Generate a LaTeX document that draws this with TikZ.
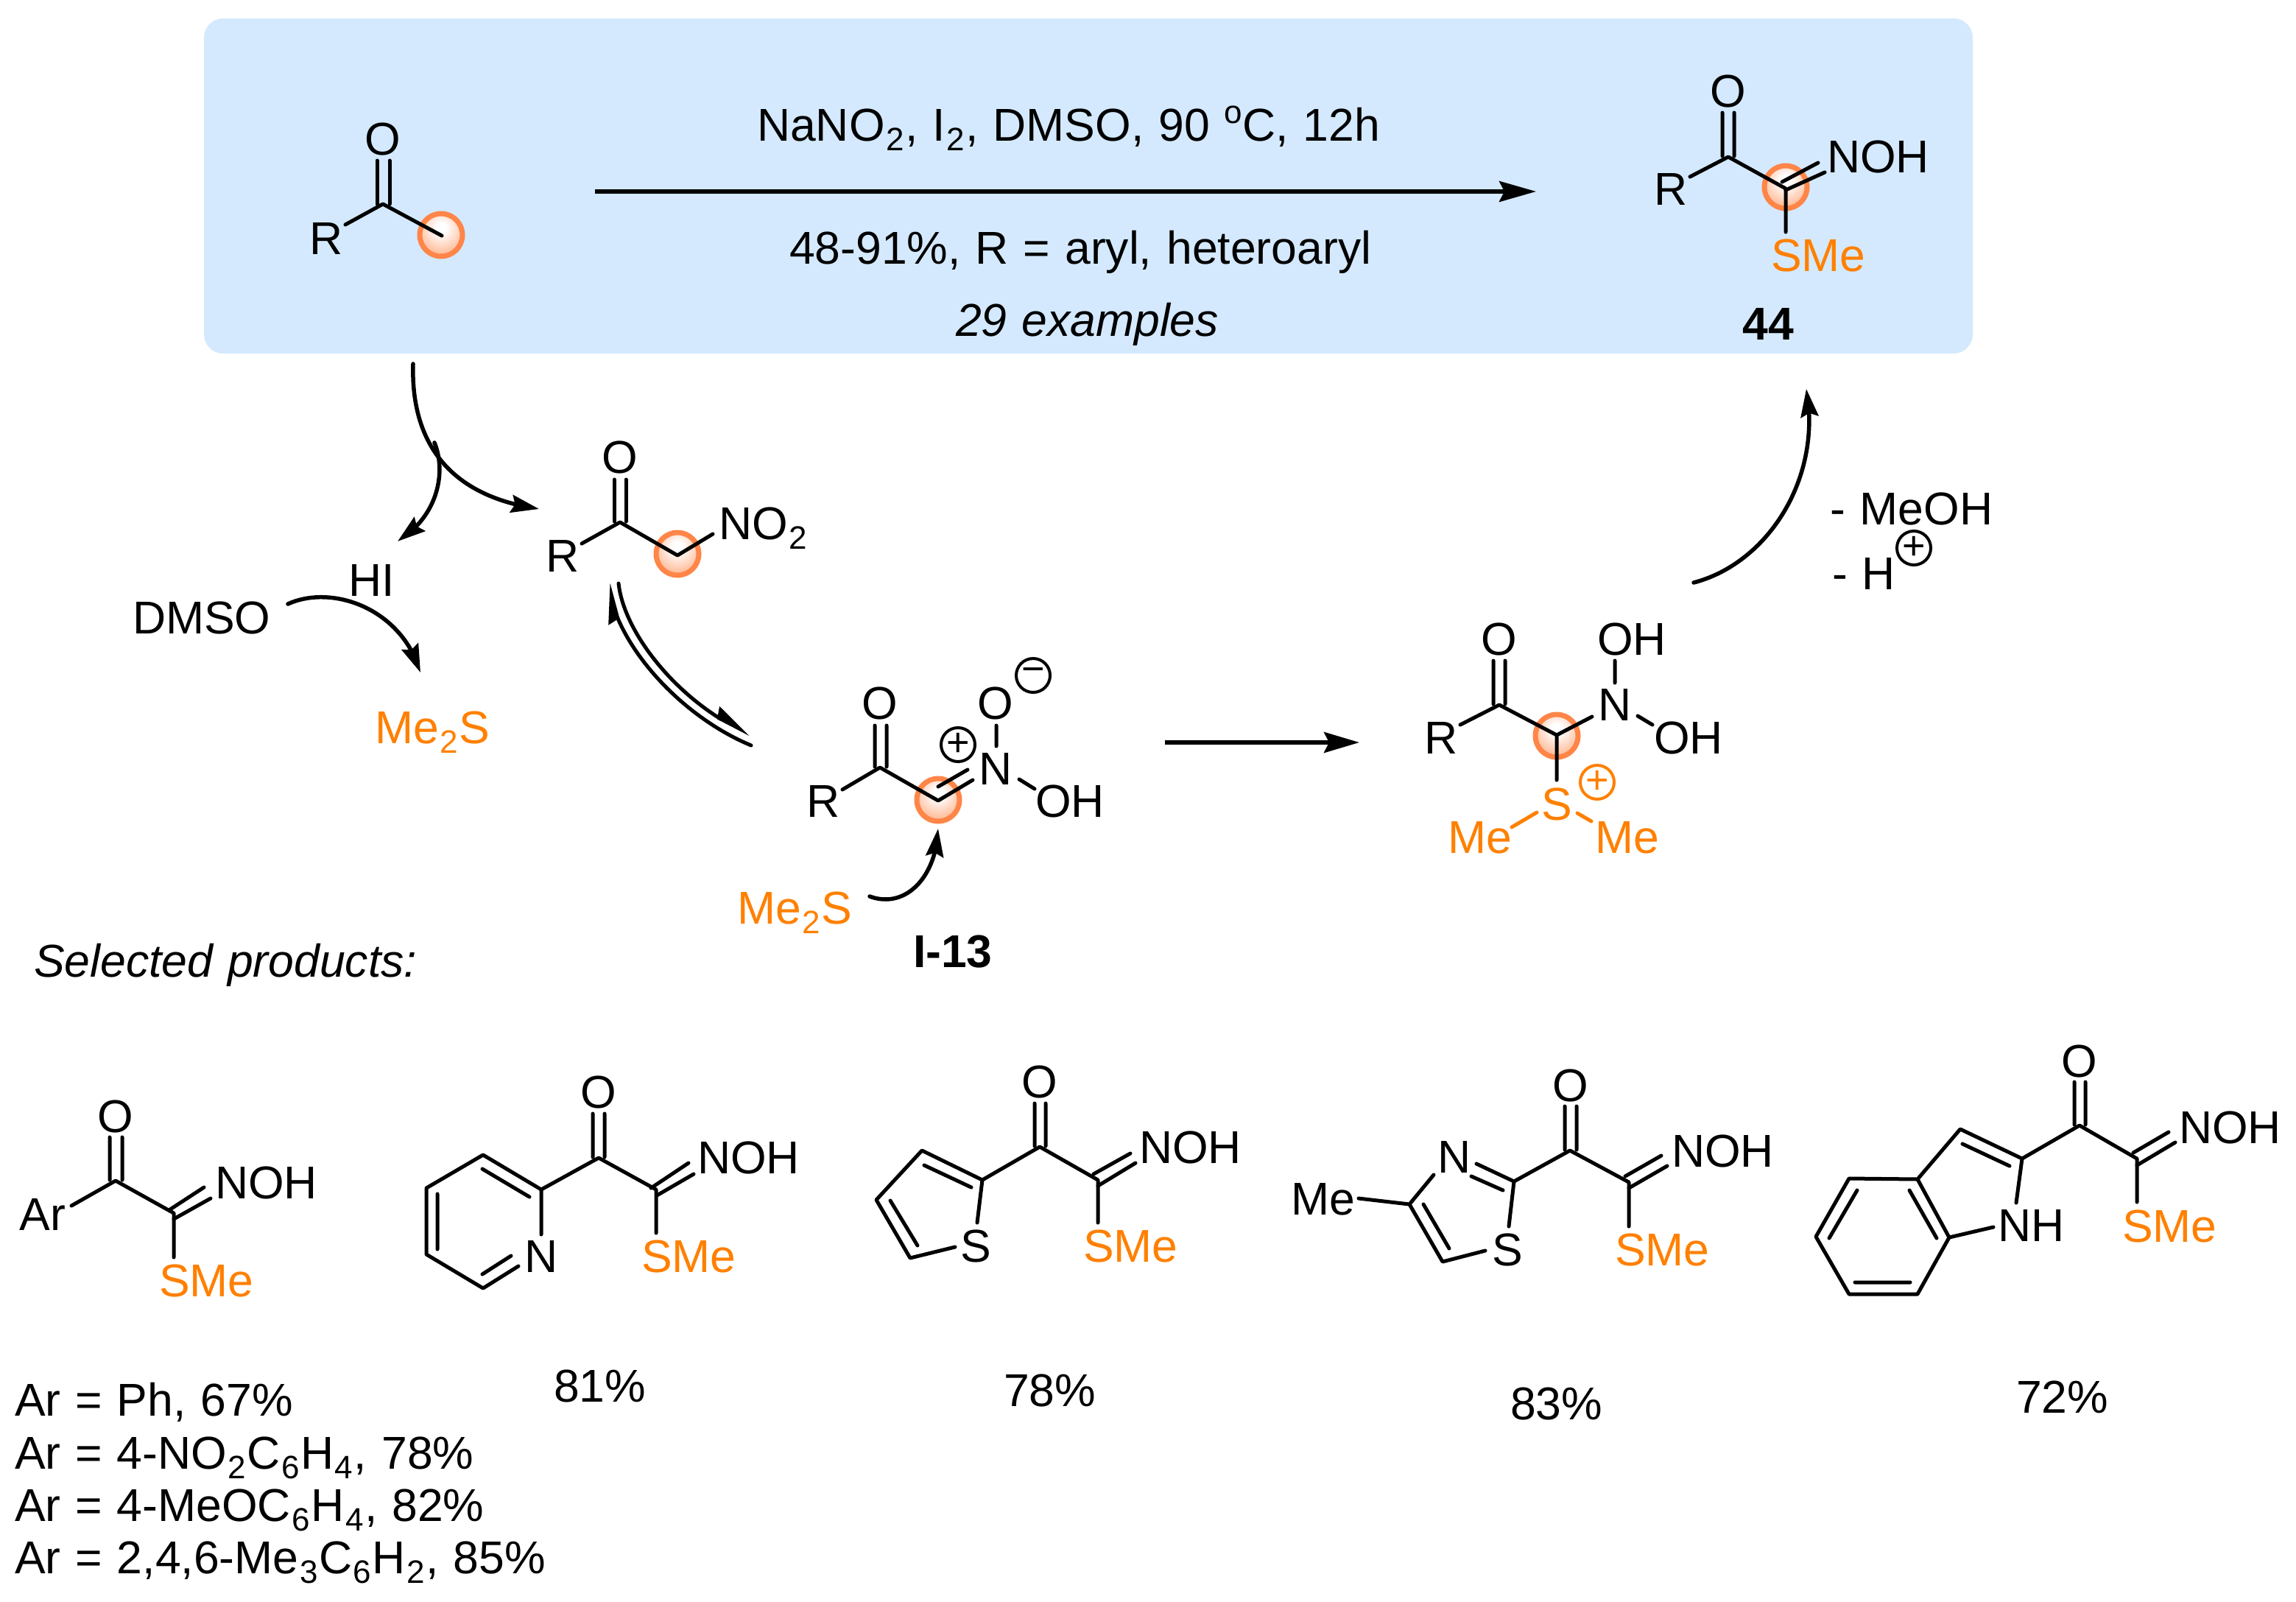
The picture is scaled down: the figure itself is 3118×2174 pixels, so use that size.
\documentclass[tikz,border=0pt]{standalone}
\usepackage{fontspec}
\setmainfont[WordSpace=1.15]{Liberation Sans}
\usetikzlibrary{arrows.meta,bending}
\definecolor{boxblue}{HTML}{D4E9FD}
\definecolor{sms}{HTML}{FF8000}
\definecolor{ring}{HTML}{FF8548}
\definecolor{orbmid}{HTML}{FFBE9C}
\definecolor{orbout}{HTML}{FF9A68}
\pgfdeclareradialshading{orb}{\pgfpoint{0bp}{9bp}}{color(0bp)=(white);color(6bp)=(white);color(28bp)=(orbmid);color(46bp)=(orbout);color(100bp)=(orbout)}
\newcommand{\sbb}[1]{\kern1.5pt\raisebox{-13pt}{\fontsize{44}{44}\selectfont #1}\kern1.5pt}
\newcommand{\sps}[1]{\raisebox{24pt}{\fontsize{44}{44}\selectfont #1}}
\tikzset{
  every node/.style={inner sep=0pt,outer sep=0pt,font=\fontsize{62.5}{62.5}\selectfont},
  lab/.style={anchor=base west},
  atom/.style={anchor=base},
  smsc/.style={text=sms},
  bond/.style={draw=black,line width=5pt,line cap=round,line join=round},
  obond/.style={draw=sms,line width=5pt,line cap=round},
  orbfill/.style={circle,minimum size=58pt,draw=ring,line width=7pt,shading=orb},
  chg/.style={circle,draw=black,line width=4pt,minimum size=46pt,font=\fontsize{54}{54}\selectfont},
  chgo/.style={chg,draw=sms,text=sms},
  arc/.style={draw=black,line width=5.5pt,line cap=round,-{Stealth[length=38pt,width=24pt,inset=5pt,flex=0.9]}},
  harp/.style={draw=black,line width=5pt,line cap=round,-{Stealth[harpoon,length=46pt,width=28pt,inset=4pt,flex=0.9]}},
  straight/.style={draw=black,line width=5.5pt,-{Stealth[length=50pt,width=28pt,inset=7pt]}},
  straightb/.style={draw=black,line width=5.5pt,-{Stealth[length=48pt,width=28pt,inset=7pt]}},
}
\begin{document}
\begin{tikzpicture}[x=1pt,y=-1pt]
\useasboundingbox (0,0) rectangle (3118,2174);
\fill[boxblue,rounded corners=26pt] (277,25) rectangle (2679,480);

% reaction header
\node[orbfill] (s1) at (599,319) {};
\node[orbfill] (s2) at (2425,254) {};
\node[orbfill] (s3) at (920,752) {};
\node[orbfill] (s4) at (1274,1086) {};
\node[orbfill] (s5) at (2114,999) {};

\coordinate (ma1) at (808,260); \coordinate (ma2) at (2086,260);
\draw[straight] (ma1) -- (ma2);
\node[lab] (t1) at (1028,191) {NaNO\sbb{2}, I\sbb{2}, DMSO, 90 \sps{o}C, 12h};
\node[lab] (t2) at (1072,358) {48-91\%, R = aryl, heteroaryl};
\node[lab] (t3) at (1298,456) {\itshape 29 examples};

% starting ketone
\node[atom] (aO) at (520,210) {O};
\node[atom] (aR) at (443,345) {R};
\coordinate (aC) at (520,277); \coordinate (aMe) at (600,320); \coordinate (aRb) at (469,305);
\coordinate (aD1a) at (512,218); \coordinate (aD1b) at (512,277); \coordinate (aD2a) at (529,218); \coordinate (aD2b) at (529,277);
\draw[bond] (aRb) -- (aC) -- (aMe);
\draw[bond] (aD1a) -- (aD1b) (aD2a) -- (aD2b);

% product 44
\node[atom] (bO) at (2347,145) {O};
\node[atom] (bR) at (2269,278) {R};
\node[lab] (bN) at (2481,234) {NOH};
\node[lab,smsc] (bS) at (2405,368) {SMe};
\node[atom] (b44) at (2401,461) {\bfseries 44};
\coordinate (bC) at (2347,213); \coordinate (bC2) at (2425,256); \coordinate (bRb) at (2295,240); \coordinate (bSb) at (2425,315);
\coordinate (bD1a) at (2339,153); \coordinate (bD1b) at (2339,212); \coordinate (bD2a) at (2355,153); \coordinate (bD2b) at (2355,212);
\coordinate (bE1a) at (2420,247); \coordinate (bE1b) at (2469,221); \coordinate (bE2a) at (2425,258); \coordinate (bE2b) at (2478,234);
\draw[bond] (bRb) -- (bC) -- (bC2) -- (bSb);
\draw[bond] (bD1a) -- (bD1b) (bD2a) -- (bD2b) (bE1a) -- (bE1b) (bE2a) -- (bE2b);

% branch arrows
\coordinate (c0) at (561,494); \coordinate (c1) at (732,691); \coordinate (c2) at (590,601); \coordinate (c3) at (540,735);
\draw[arc] (c0) .. controls (558,590) and (600,672) .. (c1);
\draw[arc] (c2) .. controls (606,640) and (596,700) .. (c3);

\node[lab] (hi) at (473,809) {HI};
\node[lab] (dmso) at (180,860) {DMSO};
\node[lab,smsc] (ms1) at (509,1009) {Me\sbb{2}S};
\coordinate (d0) at (391,820); \coordinate (d1) at (571,913);
\draw[arc] (d0) .. controls (450,793) and (545,825) .. (d1);

% nitro ketone
\node[atom] (nO) at (842,642) {O};
\node[atom] (nR) at (764,776) {R};
\node[lab] (nN) at (976,732) {NO\sbb{2}};
\coordinate (nC) at (842,709); \coordinate (nC2) at (920,754); \coordinate (nRb) at (790,738); \coordinate (nNb) at (968,725);
\coordinate (nD1a) at (834,651); \coordinate (nD1b) at (834,708); \coordinate (nD2a) at (850,651); \coordinate (nD2b) at (850,708);
\draw[bond] (nRb) -- (nC) -- (nC2) -- (nNb);
\draw[bond] (nD1a) -- (nD1b) (nD2a) -- (nD2b);

% equilibrium
\coordinate (e0) at (840,792); \coordinate (e1) at (1019,997); \coordinate (e2) at (1020,1012); \coordinate (e3) at (826,792);
\draw[harp] (e0) .. controls (848,865) and (930,960) .. (e1);
\draw[harp] (e2) .. controls (921,971) and (834,871) .. (e3);

% I-13
\node[atom] (iO) at (1195,976) {O};
\node[atom] (iR) at (1118,1109) {R};
\node[atom] (iN) at (1352,1065) {N};
\node[atom] (iO2) at (1352,976) {O};
\node[lab] (iOH) at (1406,1109) {OH};
\node[chg] (iP) at (1301,1011) {+};
\node[chg] (iM) at (1403,917) {−};
\node[lab,smsc] (ms2) at (1001,1254) {Me\sbb{2}S};
\node[lab] (i13) at (1240,1313) {\bfseries I-13};
\coordinate (iC) at (1195,1042); \coordinate (iC2) at (1274,1087); \coordinate (iRb) at (1144,1072);
\coordinate (iD1a) at (1188,985); \coordinate (iD1b) at (1188,1041); \coordinate (iD2a) at (1204,985); \coordinate (iD2b) at (1204,1041);
\coordinate (iE1a) at (1274,1068); \coordinate (iE1b) at (1314,1045); \coordinate (iE2b) at (1321,1059);
\coordinate (iF1) at (1353,985); \coordinate (iF2) at (1353,1013); \coordinate (iG1) at (1384,1058); \coordinate (iG2) at (1405,1071);
\draw[bond] (iRb) -- (iC) -- (iC2) -- (iE2b);
\draw[bond] (iD1a) -- (iD1b) (iD2a) -- (iD2b) (iE1a) -- (iE1b) (iF1) -- (iF2) (iG1) -- (iG2);
\coordinate (f0) at (1181,1217); \coordinate (f1) at (1274,1125);
\draw[arc] (f0) .. controls (1230,1235) and (1272,1190) .. (f1);

\coordinate (g0) at (1582,1008); \coordinate (g1) at (1846,1008);
\draw[straightb] (g0) -- (g1);

% sulfonium adduct
\node[atom] (jO) at (2036,889) {O};
\node[atom] (jR) at (1957,1023) {R};
\node[atom] (jN) at (2193,978) {N};
\node[lab] (jOH1) at (2169,889) {OH};
\node[lab] (jOH2) at (2246,1023) {OH};
\node[atom,smsc] (jS) at (2114,1113) {S};
\node[lab,smsc] (jMe1) at (1966,1158) {Me};
\node[lab,smsc] (jMe2) at (2166,1158) {Me};
\node[chgo] (jP) at (2169,1062) {+};
\coordinate (jC) at (2036,957); \coordinate (jC2) at (2114,998); \coordinate (jRb) at (1983,984); \coordinate (jNb) at (2162,973); \coordinate (jSb) at (2114,1059);
\coordinate (jD1a) at (2028,897); \coordinate (jD1b) at (2028,956); \coordinate (jD2a) at (2044,897); \coordinate (jD2b) at (2044,956);
\coordinate (jF1) at (2193,897); \coordinate (jF2) at (2193,927); \coordinate (jG1) at (2224,972); \coordinate (jG2) at (2244,984);
\coordinate (jH1) at (2087,1103); \coordinate (jH2) at (2053,1123); \coordinate (jI1) at (2142,1104); \coordinate (jI2) at (2161,1115);
\draw[bond] (jRb) -- (jC) -- (jC2) -- (jNb) (jC2) -- (jSb);
\draw[bond] (jD1a) -- (jD1b) (jD2a) -- (jD2b) (jF1) -- (jF2) (jG1) -- (jG2);
\draw[obond] (jH1) -- (jH2) (jI1) -- (jI2);

% return arrow
\coordinate (k0) at (2300,791); \coordinate (k1) at (2453,528);
\draw[arc] (k0) .. controls (2400,765) and (2475,650) .. (k1);
\node[lab] (k2) at (2485,712) {- MeOH};
\node[lab] (k3) at (2488,800) {- H};
\node[chg] (kP) at (2599,744) {+};

\node[lab] (sel) at (46,1326) {\itshape Selected products:};

% product Ar
\node[atom] (pO) at (157,1537) {O};
\node[lab] (pAr) at (27,1670) {Ar};
\node[lab] (pN) at (292,1627) {NOH};
\node[lab,smsc] (pS) at (216,1760) {SMe};
\coordinate (pC) at (157,1603); \coordinate (pC2) at (236,1647); \coordinate (pRb) at (97,1637); \coordinate (pSb) at (236,1707);
\coordinate (pD1a) at (149,1544); \coordinate (pD1b) at (149,1602); \coordinate (pD2a) at (166,1544); \coordinate (pD2b) at (166,1602);
\coordinate (pE1a) at (231,1642); \coordinate (pE1b) at (277,1612); \coordinate (pE2a) at (236,1655); \coordinate (pE2b) at (286,1627);
\draw[bond] (pRb) -- (pC) -- (pC2) -- (pSb);
\draw[bond] (pD1a) -- (pD1b) (pD2a) -- (pD2b) (pE1a) -- (pE1b) (pE2a) -- (pE2b);

% pyridine
\node[atom] (qO) at (813,1504) {O};
\node[atom] (qNr) at (735,1727) {N};
\node[lab] (qN) at (947,1593) {NOH};
\node[lab,smsc] (qS) at (871,1727) {SMe};
\coordinate (qC) at (813,1572); \coordinate (qC2) at (891,1615); \coordinate (qR2) at (735,1615); \coordinate (qR3) at (656,1568); \coordinate (qR4) at (579,1613); \coordinate (qR5) at (579,1703); \coordinate (qR6) at (656,1749);
\coordinate (qRn) at (735,1676); \coordinate (qR6n) at (704,1719); \coordinate (qSb) at (891,1674);
\coordinate (qI1) at (655,1730); \coordinate (qI2) at (694,1705); \coordinate (qI3) at (655,1587); \coordinate (qI4) at (719,1625); \coordinate (qI5) at (594,1621); \coordinate (qI6) at (594,1696);
\coordinate (qD1a) at (805,1512); \coordinate (qD1b) at (805,1571); \coordinate (qD2a) at (821,1512); \coordinate (qD2b) at (821,1571);
\coordinate (qE1a) at (884,1613); \coordinate (qE1b) at (935,1579); \coordinate (qE2a) at (892,1623); \coordinate (qE2b) at (942,1594);
\draw[bond] (qRn) -- (qR2) -- (qR3) -- (qR4) -- (qR5) -- (qR6) -- (qR6n);
\draw[bond] (qI1) -- (qI2) (qI3) -- (qI4) (qI5) -- (qI6);
\draw[bond] (qR2) -- (qC) -- (qC2) -- (qSb);
\draw[bond] (qD1a) -- (qD1b) (qD2a) -- (qD2b) (qE1a) -- (qE1b) (qE2a) -- (qE2b);

% thiophene
\node[atom] (rO) at (1412,1490) {O};
\node[atom] (rSr) at (1325,1713) {S};
\node[lab] (rN) at (1547,1579) {NOH};
\node[lab,smsc] (rS) at (1471,1713) {SMe};
\coordinate (rC) at (1412,1557); \coordinate (rC2) at (1491,1602); \coordinate (rR2) at (1334,1602); \coordinate (rR3) at (1252,1562); \coordinate (rR4) at (1190,1629); \coordinate (rR5) at (1236,1708);
\coordinate (rSb1) at (1327,1660); \coordinate (rSb2) at (1297,1693); \coordinate (rSb) at (1491,1660);
\coordinate (rI1) at (1255,1582); \coordinate (rI2) at (1319,1612); \coordinate (rI3) at (1209,1630); \coordinate (rI4) at (1246,1691);
\coordinate (rD1a) at (1405,1498); \coordinate (rD1b) at (1405,1556); \coordinate (rD2a) at (1420,1498); \coordinate (rD2b) at (1420,1556);
\coordinate (rE1a) at (1485,1594); \coordinate (rE1b) at (1535,1566); \coordinate (rE2a) at (1491,1610); \coordinate (rE2b) at (1542,1579);
\draw[bond] (rSb1) -- (rR2) -- (rR3) -- (rR4) -- (rR5) -- (rSb2);
\draw[bond] (rI1) -- (rI2) (rI3) -- (rI4);
\draw[bond] (rR2) -- (rC) -- (rC2) -- (rSb);
\draw[bond] (rD1a) -- (rD1b) (rD2a) -- (rD2b) (rE1a) -- (rE1b) (rE2a) -- (rE2b);

% thiazole
\node[lab] (tMe) at (1753,1649) {Me};
\node[atom] (tNr) at (1975,1592) {N};
\node[atom] (tSr) at (2047,1718) {S};
\node[atom] (tO) at (2133,1495) {O};
\node[lab] (tN) at (2270,1584) {NOH};
\node[lab,smsc] (tS) at (2193,1718) {SMe};
\coordinate (tMeb) at (1845,1627); \coordinate (tC4) at (1914,1635); \coordinate (tNb) at (1947,1595); \coordinate (tC2r) at (2056,1604); \coordinate (tNb2) at (2005,1580);
\coordinate (tI1) at (1998,1597); \coordinate (tI2) at (2041,1616); \coordinate (tC5) at (1959,1713); \coordinate (tSb1) at (2049,1665); \coordinate (tSb2) at (2017,1698);
\coordinate (tI3) at (1933,1635); \coordinate (tI4) at (1968,1695); \coordinate (tC) at (2132,1562); \coordinate (tC2) at (2212,1605); \coordinate (tSb) at (2212,1665);
\coordinate (tD1a) at (2125,1502); \coordinate (tD1b) at (2125,1561); \coordinate (tD2a) at (2141,1502); \coordinate (tD2b) at (2141,1561);
\coordinate (tE1a) at (2207,1597); \coordinate (tE1b) at (2256,1569); \coordinate (tE2a) at (2212,1613); \coordinate (tE2b) at (2264,1583);
\draw[bond] (tMeb) -- (tC4) (tNb) -- (tC4) -- (tC5) -- (tSb2) (tNb2) -- (tC2r) -- (tSb1);
\draw[bond] (tI1) -- (tI2) (tI3) -- (tI4);
\draw[bond] (tC2r) -- (tC) -- (tC2) -- (tSb);
\draw[bond] (tD1a) -- (tD1b) (tD2a) -- (tD2b) (tE1a) -- (tE1b) (tE2a) -- (tE2b);

% indole
\node[lab] (uNH) at (2713,1685) {NH};
\node[atom] (uO) at (2824,1462) {O};
\node[lab] (uN) at (2959,1552) {NOH};
\node[lab,smsc] (uS) at (2882,1686) {SMe};
\coordinate (u3a) at (2604,1601); \coordinate (u4) at (2511,1600); \coordinate (u5) at (2466,1679); \coordinate (u6) at (2511,1757); \coordinate (u7) at (2604,1757); \coordinate (u7a) at (2647,1680);
\coordinate (uI1) at (2522,1616); \coordinate (uI2) at (2484,1681); \coordinate (uI3) at (2519,1741); \coordinate (uI4) at (2594,1741); \coordinate (uI5) at (2593,1616); \coordinate (uI6) at (2630,1681);
\coordinate (u3) at (2662,1533); \coordinate (u2) at (2746,1573); \coordinate (uI7) at (2665,1553); \coordinate (uI8) at (2729,1583);
\coordinate (uNb1) at (2738,1633); \coordinate (uNb2) at (2707,1666); \coordinate (uC) at (2824,1528); \coordinate (uC2) at (2902,1573); \coordinate (uSb) at (2902,1632);
\coordinate (uD1a) at (2817,1469); \coordinate (uD1b) at (2817,1527); \coordinate (uD2a) at (2832,1469); \coordinate (uD2b) at (2832,1527);
\coordinate (uE1a) at (2897,1565); \coordinate (uE1b) at (2945,1537); \coordinate (uE2a) at (2902,1582); \coordinate (uE2b) at (2954,1551);
\draw[bond] (u3a) -- (u4) -- (u5) -- (u6) -- (u7) -- (u7a) -- cycle;
\draw[bond] (uI1) -- (uI2) (uI3) -- (uI4) (uI5) -- (uI6) (uI7) -- (uI8);
\draw[bond] (u3a) -- (u3) -- (u2) -- (uNb1) (u7a) -- (uNb2);
\draw[bond] (u2) -- (uC) -- (uC2) -- (uSb);
\draw[bond] (uD1a) -- (uD1b) (uD2a) -- (uD2b) (uE1a) -- (uE1b) (uE2a) -- (uE2b);

% yields
\node[lab] (y1) at (752,1903) {81\%};
\node[lab] (y2) at (1363,1909) {78\%};
\node[lab] (y3) at (2051,1927) {83\%};
\node[lab] (y4) at (2738,1918) {72\%};
\node[lab] (v1) at (20,1922) {Ar = Ph, 67\%};
\node[lab] (v2) at (20,1994) {Ar = 4-NO\sbb{2}C\sbb{6}H\sbb{4}, 78\%};
\node[lab] (v3) at (20,2065) {Ar = 4-MeOC\sbb{6}H\sbb{4}, 82\%};
\node[lab] (v4) at (20,2136) {Ar = 2,4,6-Me\sbb{3}C\sbb{6}H\sbb{2}, 85\%};
\end{tikzpicture}
\end{document}
